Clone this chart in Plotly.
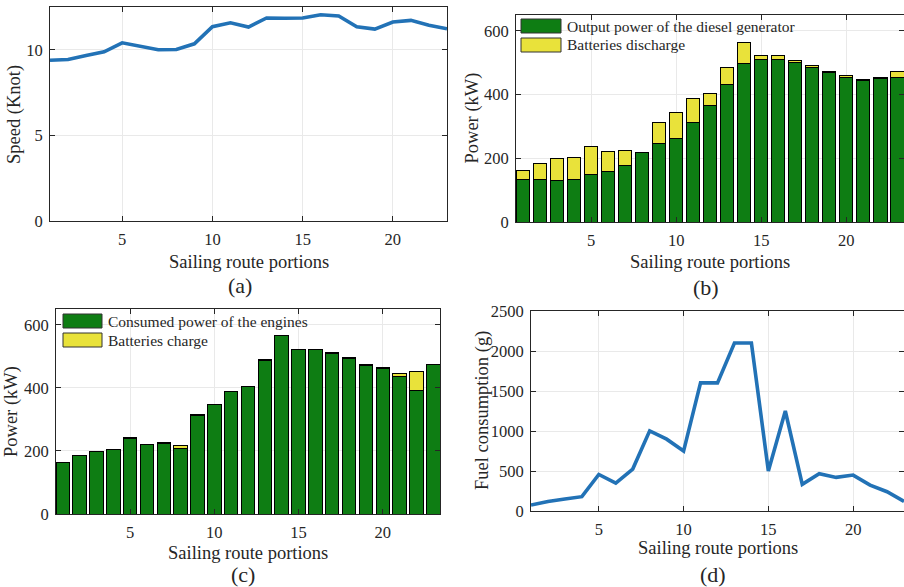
import plotly.graph_objects as go

# ---------------- data ----------------
portions = list(range(1, 24))
tick_portions = [5, 10, 15, 20]

speed_knot = [9.39, 9.43, 9.67, 9.88, 10.41, 10.2, 10.0, 10.02, 10.35, 11.35, 11.58, 11.33,
              11.86, 11.84, 11.86, 12.05, 11.97, 11.35, 11.21, 11.62, 11.72, 11.43, 11.23]

diesel_kw = [134, 133, 131, 134, 148, 160, 179, 217, 247, 262, 311, 367,
             431, 498, 509, 509, 500, 484, 471, 455, 445, 451, 454]
discharge_kw = [29, 50, 68, 70, 89, 61, 45, 0, 64, 83, 77, 36,
                55, 65, 13, 13, 8, 9, 3, 6, 2, 2, 18]

consumed_kw = [163, 184, 199, 204, 238, 221, 225, 209, 313, 346, 389, 405,
               487, 565, 523, 523, 509, 494, 472, 462, 437, 393, 473]
charge_kw = [0, 0, 0, 0, 3, 0, 2, 8, 2, 2, 0, 0,
             3, 0, 0, 0, 3, 3, 3, 2, 9, 60, 0]

fuel_g = [75, 120, 150, 179, 457, 349, 524, 1002, 898, 749, 1601, 1601,
          2100, 2100, 500, 1250, 333, 466, 420, 449, 324, 241, 120]

speed_ticks = [0, 5, 10]
power_ticks = [0, 200, 400, 600]
fuel_ticks = [0, 500, 1000, 1500, 2000, 2500]

# ---------------- style ----------------
W, H = 904, 587
FONT = "Liberation Serif"
GREEN = "#0e7d13"
YELLOW = "#e9e23a"
BLUE = "#2272b6"
AX = "#262626"
GRID = "#e9e9e9"


def px(x):
    return x / W


def py(y):
    return 1 - y / H


fig = go.Figure()

fig.add_trace(go.Scatter(x=portions, y=speed_knot, mode="lines",
                         line=dict(color=BLUE, width=3.6), xaxis="x", yaxis="y",
                         showlegend=False))

fig.add_trace(go.Bar(x=portions, y=diesel_kw, name="Output power of the diesel generator",
                     marker=dict(color=GREEN, line=dict(color="black", width=1)),
                     xaxis="x2", yaxis="y2", showlegend=False))
fig.add_trace(go.Bar(x=portions, y=discharge_kw, name="Batteries discharge",
                     marker=dict(color=YELLOW, line=dict(color="black", width=1)),
                     xaxis="x2", yaxis="y2", showlegend=False))

fig.add_trace(go.Bar(x=portions, y=consumed_kw, name="Consumed power of the engines",
                     marker=dict(color=GREEN, line=dict(color="black", width=1)),
                     xaxis="x3", yaxis="y3", showlegend=False))
fig.add_trace(go.Bar(x=portions, y=charge_kw, name="Batteries charge",
                     marker=dict(color=YELLOW, line=dict(color="black", width=1)),
                     xaxis="x3", yaxis="y3", showlegend=False))

fig.add_trace(go.Scatter(x=portions, y=fuel_g, mode="lines",
                         line=dict(color=BLUE, width=3.6), xaxis="x4", yaxis="y4",
                         showlegend=False))


def axis(domain, rng, tickvals, anchor, is_x):
    return dict(domain=domain, range=rng, tickvals=tickvals, anchor=anchor,
                automargin=False,
                showline=True, linecolor=AX, linewidth=1, mirror="ticks",
                ticks="inside", ticklen=5, tickcolor=AX, tickwidth=1,
                showgrid=True, gridcolor=GRID, gridwidth=1, zeroline=False,
                tickfont=dict(family=FONT, size=16.5, color=AX),
                ticklabelstandoff=3 if is_x else 3, fixedrange=True)


fig.update_layout(
    width=W, height=H,
    margin=dict(l=0, r=0, t=0, b=0, autoexpand=False),
    paper_bgcolor="white", plot_bgcolor="white",
    barmode="stack", bargap=0.2,
    font=dict(family=FONT, color=AX),
    xaxis=axis([px(50), px(447)], [1, 23], tick_portions, "y", True),
    yaxis=axis([py(221), py(7)], [0, 12.5], speed_ticks, "x", False),
    xaxis2=axis([px(516), 1.0], [0.58, 23.4], tick_portions, "y2", True),
    yaxis2=axis([py(222), py(15)], [0, 650], power_ticks, "x2", False),
    xaxis3=axis([px(56), px(440)], [0.6, 23.4], tick_portions, "y3", True),
    yaxis3=axis([py(514), py(309)], [0, 650], power_ticks, "x3", False),
    xaxis4=axis([px(531), 1.0], [1, 23], tick_portions, "y4", True),
    yaxis4=axis([py(511), py(311)], [0, 2500], fuel_ticks, "x4", False),
)

TITLE = 18.5
ann = []


def text(x, y, s, size, angle=0, xanchor="center"):
    ann.append(dict(x=px(x), y=py(y), xref="paper", yref="paper", text=s,
                    showarrow=False, xanchor=xanchor, yanchor="middle",
                    textangle=angle, font=dict(family=FONT, size=size, color=AX)))


# x titles and panel labels
text(248.7, 262, "Sailing route portions", TITLE)
text(240, 285, "(a)", 22)
text(709.8, 262, "Sailing route portions", TITLE)
text(705.7, 287, "(b)", 22)
text(248, 553, "Sailing route portions", TITLE)
text(243, 574, "(c)", 22)
text(718, 548, "Sailing route portions", TITLE)
text(713, 574, "(d)", 22)

# y titles
text(14, 115, "Speed (Knot)", TITLE, -90)
text(472.5, 118, "Power (kW)", TITLE, -90)
text(11, 412, "Power (kW)", TITLE, -90)
text(482, 411, "Fuel consumption (g)", TITLE, -90)

# legends (swatch + label)
shapes = []


def swatch(x0, y0, x1, y1, color):
    shapes.append(dict(type="rect", xref="paper", yref="paper",
                       x0=px(x0), x1=px(x1), y0=py(y1), y1=py(y0),
                       fillcolor=color, line=dict(color="#333333", width=1)))


LEG = 15.5
swatch(521, 19, 561, 33, GREEN)
text(565, 26, "Output power of the diesel generator", LEG, xanchor="left")
swatch(521, 38, 561, 52, YELLOW)
text(565, 45, "Batteries discharge", LEG, xanchor="left")

swatch(63, 314, 102, 328, GREEN)
text(106, 321, "Consumed power of the engines", LEG, xanchor="left")
swatch(63, 333, 102, 347, YELLOW)
text(106, 340, "Batteries charge", LEG, xanchor="left")

fig.update_layout(annotations=ann, shapes=shapes)

fig.write_html(
    "out.html",
    config={"displayModeBar": False},
    post_script="document.body.style.margin='0';document.body.style.overflow='hidden';",
)
